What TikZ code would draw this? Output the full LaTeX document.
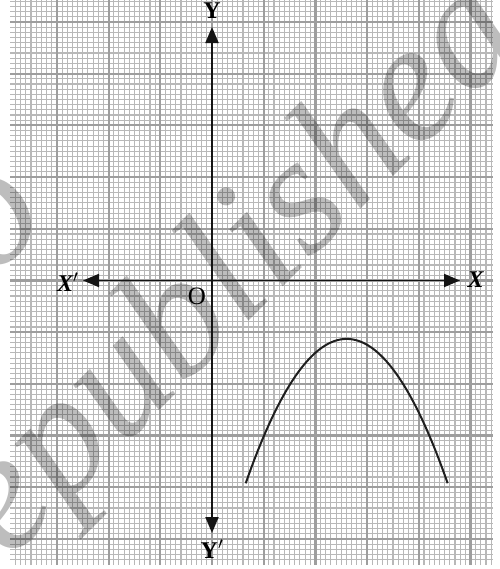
\documentclass[tikz,border=0pt]{standalone}
\usepackage{fontspec}
\setmainfont{Liberation Serif}
\usetikzlibrary{arrows.meta}
\begin{document}
\begin{tikzpicture}[x=51.7pt,y=51.7pt,
  minor/.style={draw=black!28, line width=1.1pt},
  major/.style={draw=black!38, line width=2.2pt},
  axisline/.style={draw=black!92, line width=1.9pt, {Triangle[length=16pt,width=13pt]}-{Triangle[length=16pt,width=13pt]}},
  curveline/.style={draw=black!88, line width=2pt},
  lab/.style={font=\fontsize{24}{24}\selectfont\bfseries, inner sep=0pt},
  labit/.style={font=\fontsize{24}{24}\selectfont\bfseries\itshape, inner sep=0pt},
  wm/.style={font=\fontsize{170}{170}\selectfont\itshape, text=black, text opacity=0.26, inner sep=0pt, rotate=45}]
\useasboundingbox (-4.1006,-5.5803) rectangle (5.5513,5.4255);
% graph paper
\draw[minor, step=0.1] (-3.9,-5.5) grid (5.435,5.4255);
\draw[major, step=1] (-3.9,-5.5) grid (5.435,5.4255);
% watermark
\begin{scope}
\clip (-4.1006,-5.5803) rectangle (5.5513,5.4255);
\node[wm, anchor=base west] (wm1) at (-3.93,-5.43) {epublished};
\node[wm] (wm2) at (-4.2,1.13) {o};
\end{scope}
% axes
\coordinate (O) at (0,0);
\coordinate (xl) at (-2.495,0);
\coordinate (xr) at (4.797,0);
\coordinate (yt) at (0,4.903);
\coordinate (yb) at (0,-4.884);
\draw[axisline] (xl) -- (xr);
\draw[axisline] (yb) -- (yt);
\node[lab] (ylab) at (0,5.22) {Y};
\node[lab] (yplab) at (0,-5.193) {Y$'$};
\node[labit] (xplab) at (-2.79,-0.03) {X$'$};
\node[labit] (xlab) at (5.1,0.01) {X};
\node[font=\fontsize{25}{25}\selectfont, inner sep=0pt] (olab) at (-0.29,-0.30) {O};
% curve
\draw[curveline] plot[domain=-1.953:1.953, samples=80] ({2.605+\x}, {-1.13-0.732*\x*\x});
\end{tikzpicture}
\end{document}
